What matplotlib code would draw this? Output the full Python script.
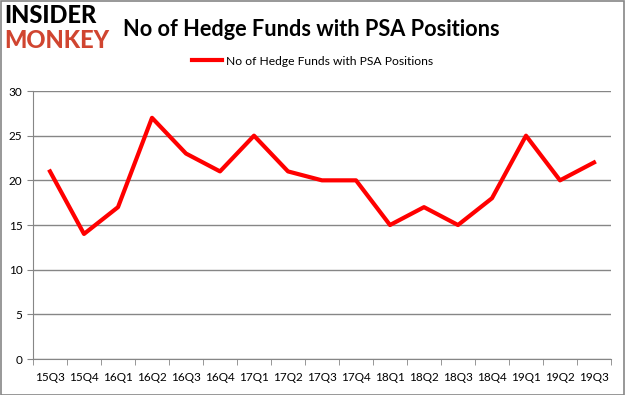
import matplotlib.pyplot as plt
import numpy as np

plt.rcParams['font.family'] = ['Lato', 'DejaVu Sans']

quarters = ["15Q3", "15Q4", "16Q1", "16Q2", "16Q3", "16Q4", "17Q1", "17Q2", "17Q3",
            "17Q4", "18Q1", "18Q2", "18Q3", "18Q4", "19Q1", "19Q2", "19Q3"]
funds = [21, 14, 17, 27, 23, 21, 25, 21, 20, 20, 15, 17, 15, 18, 25, 20, 22]

fig = plt.figure(figsize=(6.25, 3.95), dpi=100)
ax = fig.add_axes([0.0528, 0.0911, 0.9248, 0.6785])

x = np.arange(len(quarters))
ax.plot(x, funds, color="#ff0000", lw=3, label="No of Hedge Funds with PSA Positions")

ax.set_xlim(-0.5, len(quarters) - 0.5)
ax.set_ylim(0, 30)
ax.set_yticks(range(0, 31, 5))
ax.set_xticks(x)
ax.set_xticklabels(quarters, fontsize=8.5)
ax.set_xticks(np.arange(-0.5, len(quarters), 1), minor=True)
ax.tick_params(axis="x", which="major", length=0, pad=9)
ax.tick_params(axis="x", which="minor", length=4, color="#868686")
ax.tick_params(axis="y", length=4, color="#868686", labelsize=8.5)
ax.grid(axis="y", color="#868686", lw=1)
ax.set_axisbelow(True)
for s in ["top", "right"]:
    ax.spines[s].set_visible(False)
ax.spines["left"].set_color("#868686")
ax.spines["bottom"].set_color("#868686")

ax.legend(loc="center", bbox_to_anchor=(0.5, 0.845), bbox_transform=fig.transFigure,
          frameon=False, fontsize=8.7, handlelength=2.5, handletextpad=0.3)

fig.text(0.197, 0.925, "No of Hedge Funds with PSA Positions", fontsize=15.7,
         fontweight="bold", va="center", ha="left")
fig.text(0.007, 0.96, "INSIDER", fontsize=17, fontweight="black", color="black",
         va="center", ha="left")
fig.text(0.007, 0.898, "MONKEY", fontsize=17, fontweight="black", color="#d04530",
         va="center", ha="left")

fig.patches.append(plt.Rectangle((0.001, 0.001), 0.997, 0.997, transform=fig.transFigure,
                                 fill=False, edgecolor="#868686", lw=1.2))

fig.savefig("out.png", dpi=100)
